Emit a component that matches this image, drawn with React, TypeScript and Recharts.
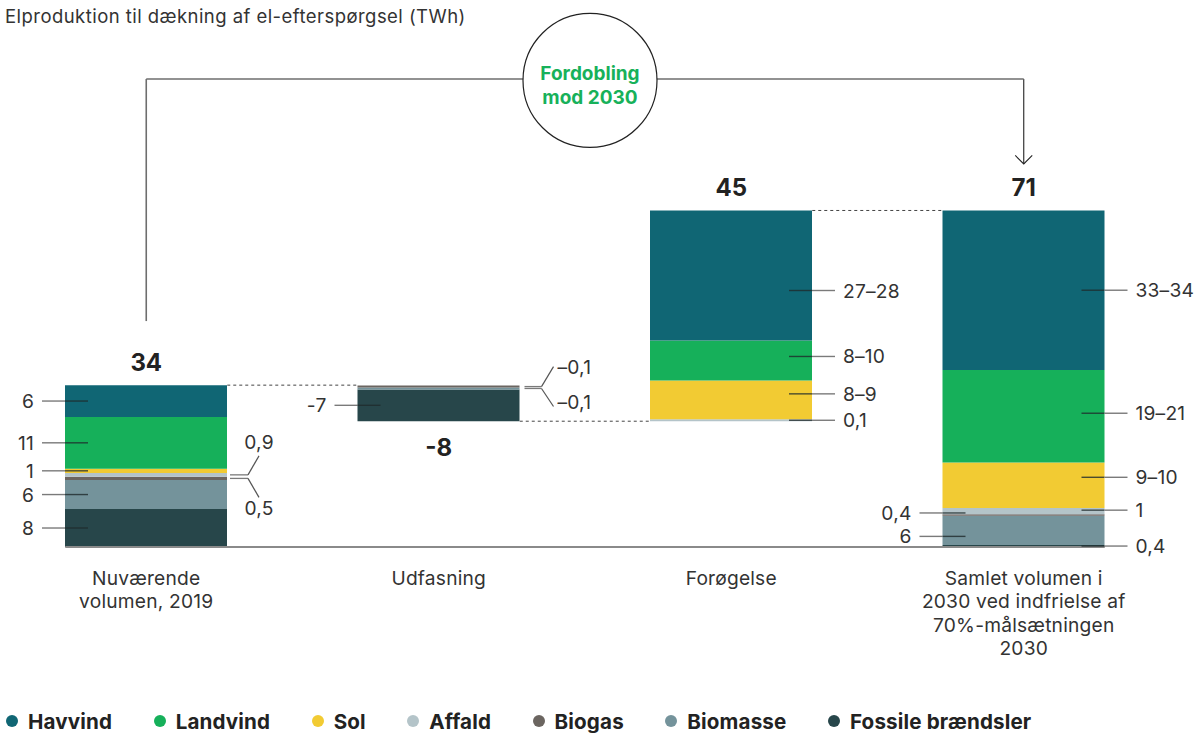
import React from "react";
import {
  BarChart,
  Bar,
  XAxis,
  YAxis,
  LabelList,
  ReferenceLine,
  ReferenceDot,
  Legend,
} from "recharts";

// ---------- data ----------
const CATEGORIES = [
  "Nuværende volumen, 2019",
  "Udfasning",
  "Forøgelse",
  "Samlet volumen i 2030",
];
const TICK_LINES = [
  ["Nuværende", "volumen, 2019"],
  ["Udfasning"],
  ["Forøgelse"],
  ["Samlet volumen i", "2030 ved indfrielse af", "70%-målsætningen", "2030"],
];

// invisible waterfall base (TWh)
const BASE = [0, 26.5, 26.5, 0];
// segment sizes as drawn (TWh)
const FOSSILE = [8.0, 6.7, 0, 0.4];
const BIOMASSE = [6.1, 0.4, 0, 6.2];
const BIOGAS = [0.7, 0.4, 0, 0.3];
const AFFALD = [0.8, 0, 0.4, 1.3];
const SOL = [0.9, 0, 8.2, 9.6];
const LANDVIND = [10.9, 0, 8.4, 19.5];
const HAVVIND = [6.7, 0, 27.4, 33.6];

// segment label texts and their placement
const LBL_FOSSILE = ["8", "-7", "", "0,4"];
const LBL_BIOMASSE = ["6", "–0,1", "", "6"];
const LBL_BIOGAS = ["0,5", "–0,1", "", "0,4"];
const LBL_AFFALD = ["0,9", "", "0,1", "1"];
const LBL_SOL = ["1", "", "8–9", "9–10"];
const LBL_LANDVIND = ["11", "", "8–10", "19–21"];
const LBL_HAVVIND = ["6", "", "27–28", "33–34"];

const SIDE_FOSSILE = ["L", "L", "", "R"];
const SIDE_BIOMASSE = ["L", "BDR", "", "L"];
const SIDE_BIOGAS = ["BD", "BUR", "", "L"];
const SIDE_AFFALD = ["BU", "", "R", "R"];
const SIDE_SOL = ["L", "", "R", "R"];
const SIDE_LANDVIND = ["L", "", "R", "R"];
const SIDE_HAVVIND = ["L", "", "R", "R"];

const TOTAL_LABELS = ["34", "-8", "45", "71"];
const TOTAL_DIR = ["up", "down", "up", "up"];

const TITLE = "Elproduktion til dækning af el-efterspørgsel (TWh)";
const CIRCLE_LINES = ["Fordobling", "mod 2030"];
const BRACKET_Y = 98.6; // TWh level of the top bracket
const BRACKET_LEFT_END = 47.6;
const BRACKET_RIGHT_END = 80.7;
const Y_MAX = 71;

// ---------- styles ----------
const FONT = "Inter, 'Noto Sans', sans-serif";
const BAR_SIZE = 162;
const C_HAVVIND = "#106674";
const C_LANDVIND = "#16b05a";
const C_SOL = "#f2cb33";
const C_AFFALD = "#b4c4c9";
const C_BIOGAS = "#6b6560";
const C_BIOMASSE = "#74939b";
const C_FOSSILE = "#27464a";
const TEXT = "#333333";
const LBL_FS = 19.2;
const LBL_LS = 0.2;

// vertical nudges (px) of the leader labels, per category
const NUDGE_FOSSILE = [0, 0, 0, 0];
const NUDGE_BIOMASSE = [0, 0, 0, 6];
const NUDGE_BIOGAS = [0, 0, 0, -2];
const NUDGE_AFFALD = [0, 0, 0, -1];
const NUDGE_SOL = [0, 0, -6, -8];
const NUDGE_LANDVIND = [0, 0, -4, -3];
const NUDGE_HAVVIND = [0, 0, 15, 0];

const SERIES = [
  { key: "fossile", name: "Fossile brændsler", color: C_FOSSILE, values: FOSSILE, labels: LBL_FOSSILE, sides: SIDE_FOSSILE, nudge: NUDGE_FOSSILE },
  { key: "biomasse", name: "Biomasse", color: C_BIOMASSE, values: BIOMASSE, labels: LBL_BIOMASSE, sides: SIDE_BIOMASSE, nudge: NUDGE_BIOMASSE },
  { key: "biogas", name: "Biogas", color: C_BIOGAS, values: BIOGAS, labels: LBL_BIOGAS, sides: SIDE_BIOGAS, nudge: NUDGE_BIOGAS },
  { key: "affald", name: "Affald", color: C_AFFALD, values: AFFALD, labels: LBL_AFFALD, sides: SIDE_AFFALD, nudge: NUDGE_AFFALD },
  { key: "sol", name: "Sol", color: C_SOL, values: SOL, labels: LBL_SOL, sides: SIDE_SOL, nudge: NUDGE_SOL },
  { key: "landvind", name: "Landvind", color: C_LANDVIND, values: LANDVIND, labels: LBL_LANDVIND, sides: SIDE_LANDVIND, nudge: NUDGE_LANDVIND },
  { key: "havvind", name: "Havvind", color: C_HAVVIND, values: HAVVIND, labels: LBL_HAVVIND, sides: SIDE_HAVVIND, nudge: NUDGE_HAVVIND },
];
const LEGEND_ORDER = [...SERIES].reverse().map((s) => s.name);

const data = CATEGORIES.map((name, i) => {
  const row: any = { name, base: BASE[i] };
  SERIES.forEach((s) => (row[s.key] = s.values[i]));
  return row;
});

const totals = CATEGORIES.map(
  (_, i) => BASE[i] + SERIES.reduce((acc, s) => acc + s.values[i], 0)
);
const TOTAL_Y = CATEGORIES.map((_, i) => (TOTAL_DIR[i] === "down" ? BASE[i] : totals[i]));

// ---------- renderers ----------
function makeSegmentLabel(labels: string[], sides: string[], nudge: number[]) {
  return (props: any) => {
    const idx = CATEGORIES.indexOf(String(props.value));
    if (idx < 0) return null;
    const t = labels[idx];
    const s = sides[idx];
    if (!t || !s) return null;
    const vb = props.viewBox && props.viewBox.width !== undefined ? props.viewBox : props;
    const x = Number(vb.x);
    const y0 = Number(vb.y);
    const h0 = Number(vb.height);
    const w = Number(vb.width);
    const top = Math.min(y0, y0 + h0);
    const h = Math.abs(h0);
    const cy = top + h / 2 + (nudge[idx] || 0);
    const R = x + w;
    const txt = (tx: number, ty: number, anchor: string) => (
      <text
        x={tx}
        y={ty}
        textAnchor={anchor as any}
        dominantBaseline="central"
        fontFamily={FONT}
        fontSize={LBL_FS}
        letterSpacing={LBL_LS}
        fill={TEXT}
      >
        {t}
      </text>
    );
    if (s === "L") {
      return (
        <g>
          <line x1={x - 23} y1={cy} x2={x} y2={cy} stroke="#7a7a7a" strokeWidth={1.4} />
          <line x1={x} y1={cy} x2={x + 23} y2={cy} stroke="#1f2a2c" strokeWidth={1.4} strokeOpacity={0.8} />
          {txt(x - 31, cy, "end")}
        </g>
      );
    }
    if (s === "R") {
      return (
        <g>
          <line x1={R - 23} y1={cy} x2={R} y2={cy} stroke="#1f2a2c" strokeWidth={1.4} strokeOpacity={0.8} />
          <line x1={R} y1={cy} x2={R + 23} y2={cy} stroke="#7a7a7a" strokeWidth={1.4} />
          {txt(R + 31, cy, "start")}
        </g>
      );
    }
    if (s === "BU" || s === "BD") {
      const up = s === "BU";
      return (
        <g>
          <line x1={R + 3} y1={cy} x2={R + 21} y2={cy} stroke="#7a7a7a" strokeWidth={1.3} />
          <line x1={R + 21} y1={cy} x2={R + 32} y2={up ? cy - 19 : cy + 19} stroke="#555" strokeWidth={1.2} />
          {txt(R + 32, up ? cy - 33 : cy + 30, "middle")}
        </g>
      );
    }
    // BUR / BDR
    const up = s === "BUR";
    return (
      <g>
        <line x1={R + 5} y1={cy} x2={R + 22} y2={cy} stroke="#7a7a7a" strokeWidth={1.3} />
        <line x1={R + 22} y1={cy} x2={R + 34} y2={up ? cy - 20 : cy + 18} stroke="#555" strokeWidth={1.2} />
        {txt(R + 38, up ? cy - 20 : cy + 14, "start")}
      </g>
    );
  };
}

const CategoryTick = (props: any) => {
  const { x, y, payload } = props;
  const idx = CATEGORIES.indexOf(payload.value);
  const lines = TICK_LINES[idx] || [String(payload.value)];
  return (
    <g>
      {lines.map((ln, i) => (
        <text
          key={i}
          x={x}
          y={y + 31 + i * 23.4}
          textAnchor="middle"
          dominantBaseline="central"
          fontFamily={FONT}
          fontSize={LBL_FS}
          letterSpacing={LBL_LS}
          fill={TEXT}
        >
          {ln}
        </text>
      ))}
    </g>
  );
};

const renderLegend = (props: any) => {
  const payload = (props.payload || []).filter(
    (p: any) => p.type !== "none" && LEGEND_ORDER.indexOf(p.value) >= 0
  );
  const items = [...payload].sort(
    (a: any, b: any) => LEGEND_ORDER.indexOf(a.value) - LEGEND_ORDER.indexOf(b.value)
  );
  return (
    <div
      style={{
        display: "flex",
        alignItems: "center",
        height: 24,
        paddingLeft: 6,
        fontFamily: FONT,
        fontWeight: 700,
        fontSize: 20.6,
        letterSpacing: 0.15,
        color: "#222",
        whiteSpace: "nowrap",
      }}
    >
      {items.map((p: any) => (
        <div key={p.value} style={{ display: "flex", alignItems: "center", marginRight: 41.5 }}>
          <span
            style={{
              display: "inline-block",
              width: 12,
              height: 12,
              borderRadius: 6,
              background: p.color,
              marginRight: 10,
            }}
          />
          {p.value}
        </div>
      ))}
    </div>
  );
};

const BaselineShape = (p: any) => (
  <line x1={p.x1 - BAR_SIZE / 2} y1={p.y1} x2={p.x2 + BAR_SIZE / 2} y2={p.y2} stroke="#8a8a8a" strokeWidth={2} />
);
const ConnectorShape = (p: any) => (
  <line
    x1={p.x1 + BAR_SIZE / 2}
    y1={p.y1}
    x2={p.x2 - BAR_SIZE / 2}
    y2={p.y2}
    stroke="#444"
    strokeWidth={1}
    strokeDasharray="3 3"
  />
);
const VerticalShape = (p: any) => (
  <line x1={p.x1} y1={p.y1} x2={p.x2} y2={p.y2} stroke="#6e6e6e" strokeWidth={1.6} />
);
const ArrowShape = (p: any) => (
  <g>
    <line x1={p.x1} y1={p.y1} x2={p.x2} y2={p.y2} stroke="#222" strokeWidth={1.1} />
    <polyline
      points={`${p.x2 - 8.5},${p.y2 - 8.5} ${p.x2},${p.y2} ${p.x2 + 8.5},${p.y2 - 8.5}`}
      fill="none"
      stroke="#222"
      strokeWidth={1.1}
    />
  </g>
);
const BracketShape = (p: any) => {
  const cx = (p.x1 + p.x2) / 2 + 5;
  const cy = p.y1 + 1.4;
  return (
    <g>
      <line x1={p.x1} y1={p.y1} x2={p.x2} y2={p.y2} stroke="#6e6e6e" strokeWidth={1.6} />
      <circle cx={cx} cy={cy} r={67} fill="#ffffff" stroke="#222" strokeWidth={1.2} />
      {CIRCLE_LINES.map((ln, i) => (
        <text
          key={i}
          x={cx}
          y={p.y1 - 5 + i * 24}
          textAnchor="middle"
          dominantBaseline="central"
          fontFamily={FONT}
          fontWeight={700}
          fontSize={19}
          fill="#17b15a"
        >
          {ln}
        </text>
      ))}
    </g>
  );
};

const makeTotalShape = (i: number) => (p: any) => (
  <text
    x={p.cx}
    y={TOTAL_DIR[i] === "down" ? p.cy + 26 : p.cy - 23}
    textAnchor="middle"
    dominantBaseline="central"
    fontFamily={FONT}
    fontWeight={700}
    fontSize={24}
    fill="#222"
  >
    {TOTAL_LABELS[i]}
  </text>
);

export default function App() {
  return (
    <div
      style={{
        position: "absolute",
        left: 0,
        top: 0,
        width: 1196,
        height: 733,
        background: "#ffffff",
        overflow: "hidden",
      }}
    >
      <div
        style={{
          position: "absolute",
          left: 5,
          top: 5,
          fontFamily: FONT,
          fontSize: 18.5,
          letterSpacing: 0.45,
          color: TEXT,
          whiteSpace: "nowrap",
        }}
      >
        {TITLE}
      </div>
      <BarChart
        width={1196}
        height={733}
        data={data}
        margin={{ top: 210, right: 26, bottom: 0, left: 0 }}
      >
        <XAxis
          dataKey="name"
          axisLine={false}
          tickLine={false}
          tickSize={0}
          tickMargin={0}
          interval={0}
          height={162}
          tick={<CategoryTick />}
        />
        <YAxis hide type="number" domain={[0, Y_MAX]} allowDataOverflow />
        <Bar dataKey="base" stackId="w" fill="transparent" legendType="none" isAnimationActive={false} barSize={BAR_SIZE} />
        {SERIES.map((s) => (
          <Bar
            key={s.key}
            dataKey={s.key}
            name={s.name}
            stackId="w"
            fill={s.color}
            barSize={BAR_SIZE}
            isAnimationActive={false}
          >
            <LabelList dataKey="name" content={makeSegmentLabel(s.labels, s.sides, s.nudge)} />
          </Bar>
        ))}
        <ReferenceLine
          segment={[{ x: CATEGORIES[0], y: 0 }, { x: CATEGORIES[3], y: 0 }]}
          ifOverflow="visible"
          shape={BaselineShape}
        />
        <ReferenceLine
          segment={[{ x: CATEGORIES[0], y: totals[0] }, { x: CATEGORIES[1], y: totals[0] }]}
          ifOverflow="visible"
          shape={ConnectorShape}
        />
        <ReferenceLine
          segment={[{ x: CATEGORIES[1], y: BASE[1] }, { x: CATEGORIES[2], y: BASE[2] }]}
          ifOverflow="visible"
          shape={ConnectorShape}
        />
        <ReferenceLine
          segment={[{ x: CATEGORIES[2], y: totals[2] }, { x: CATEGORIES[3], y: totals[2] }]}
          ifOverflow="visible"
          shape={ConnectorShape}
        />
        <ReferenceLine
          segment={[{ x: CATEGORIES[0], y: BRACKET_LEFT_END }, { x: CATEGORIES[0], y: BRACKET_Y }]}
          ifOverflow="visible"
          shape={VerticalShape}
        />
        <ReferenceLine
          segment={[{ x: CATEGORIES[3], y: BRACKET_Y }, { x: CATEGORIES[3], y: BRACKET_RIGHT_END }]}
          ifOverflow="visible"
          shape={ArrowShape}
        />
        <ReferenceLine
          segment={[{ x: CATEGORIES[0], y: BRACKET_Y }, { x: CATEGORIES[3], y: BRACKET_Y }]}
          ifOverflow="visible"
          shape={BracketShape}
        />
        {CATEGORIES.map((c, i) => (
          <ReferenceDot key={c} x={c} y={TOTAL_Y[i]} r={0} ifOverflow="visible" shape={makeTotalShape(i)} />
        ))}
        <Legend verticalAlign="bottom" align="left" content={renderLegend} />
      </BarChart>
    </div>
  );
}
